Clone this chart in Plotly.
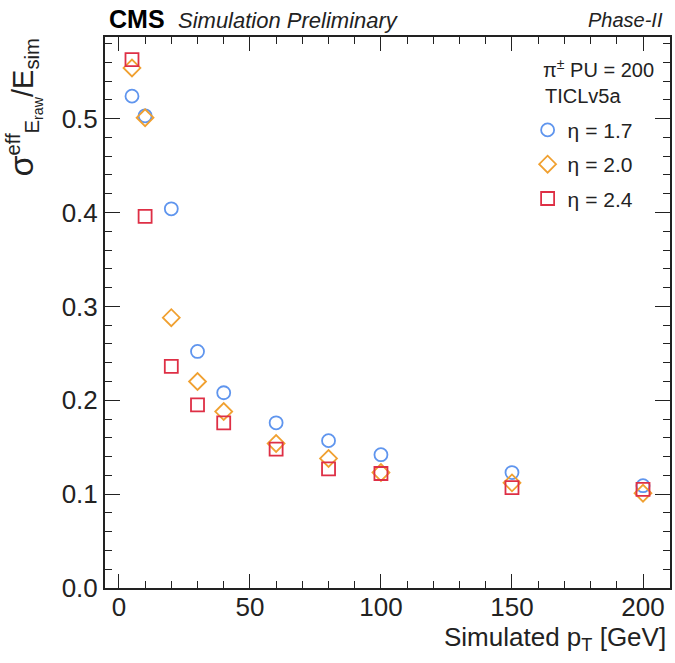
import plotly.graph_objects as go

pt = [5, 10, 20, 30, 40, 60, 80, 100, 150, 200]
eta17 = [0.524, 0.503, 0.404, 0.252, 0.208, 0.176, 0.157, 0.142, 0.123, 0.109]
eta20 = [0.554, 0.501, 0.288, 0.220, 0.188, 0.154, 0.138, 0.123, 0.112, 0.101]
eta24 = [0.563, 0.396, 0.236, 0.195, 0.176, 0.148, 0.127, 0.122, 0.107, 0.105]

series = [
    ("η = 1.7", eta17, "circle-open", "#5f95ee"),
    ("η = 2.0", eta20, "diamond-open", "#f0a030"),
    ("η = 2.4", eta24, "square-open", "#de2f45"),
]

FONT = "Liberation Sans, Arial, Helvetica, sans-serif"

fig = go.Figure()
for i, (name, vals, sym, col) in enumerate(series):
    fig.add_trace(go.Scatter(
        x=pt, y=vals, mode="markers", name=name,
        legendgroup="g%d" % i,
        marker=dict(symbol=sym, size=13, color=col, line=dict(width=1.8, color=col)),
    ))

fig.update_layout(
    width=675, height=663, autosize=False,
    margin=dict(l=105, r=3, t=37, b=75),
    paper_bgcolor="white", plot_bgcolor="white",
    font=dict(family=FONT, color="#222222"),
    showlegend=True,
    legend=dict(x=0.748, y=0.868, xanchor="left", yanchor="top",
                bgcolor="rgba(0,0,0,0)", font=dict(size=21, family=FONT, color="#222222"),
                traceorder="grouped", tracegroupgap=4, itemsizing="trace"),
    xaxis=dict(range=[-5.3, 210.3], tickvals=[0, 50, 100, 150, 200],
               ticks="inside", ticklen=14, tickwidth=1.3, tickcolor="#222",
               minor=dict(ticks="inside", ticklen=7, dtick=10, tickcolor="#222", tickwidth=1.1),
               showline=True, linecolor="#222", linewidth=2, mirror="allticks",
               showgrid=False, zeroline=False, ticklabelstandoff=-5,
               tickfont=dict(size=26, family=FONT, color="#222")),
    yaxis=dict(range=[0, 0.587], tickvals=[0, 0.1, 0.2, 0.3, 0.4, 0.5], tickformat=".1f",
               ticks="inside", ticklen=15, tickwidth=1.3, tickcolor="#222",
               minor=dict(ticks="inside", ticklen=7, dtick=0.02, tickcolor="#222", tickwidth=1.1),
               showline=True, linecolor="#222", linewidth=2, mirror="allticks",
               showgrid=False, zeroline=False,
               tickfont=dict(size=26, family=FONT, color="#222")),
)

ann = [
    dict(text="<b>CMS</b>", x=0.0035, y=1.032, xanchor="left", yanchor="middle",
         font=dict(size=25, family=FONT, color="black")),
    dict(text="<i>Simulation Preliminary</i>", x=0.125, y=1.030, xanchor="left", yanchor="middle",
         font=dict(size=22, family=FONT, color="#222")),
    dict(text="<i>Phase-II</i>", x=0.991, y=1.030, xanchor="right", yanchor="middle",
         font=dict(size=20, family=FONT, color="#222")),
    dict(text="π<sup>±</sup> PU = 200", x=0.976, y=0.942, xanchor="right", yanchor="middle",
         font=dict(size=20, family=FONT, color="#222")),
    dict(text="TICLv5a", x=0.776, y=0.893, xanchor="left", yanchor="middle",
         font=dict(size=20, family=FONT, color="#222")),
    dict(text="Simulated p<sub>T</sub> [GeV]", x=0.9965, y=-0.091, xanchor="right", yanchor="middle",
         font=dict(size=26, family=FONT, color="#222")),
    dict(text="<span style='font-size:34px'>σ</span><sup>eff</sup><sub>E<sub>raw</sub></sub>/E<sub>sim</sub>",
         x=-0.145, y=0.872,
         xanchor="center", yanchor="middle", textangle=-90,
         font=dict(size=29, family=FONT, color="#222")),
]
for a in ann:
    a.update(xref="paper", yref="paper", showarrow=False)
    fig.add_annotation(**a)

fig.write_html("out.html", post_script="document.body.style.margin='0px';",
               config={"displayModeBar": False})
